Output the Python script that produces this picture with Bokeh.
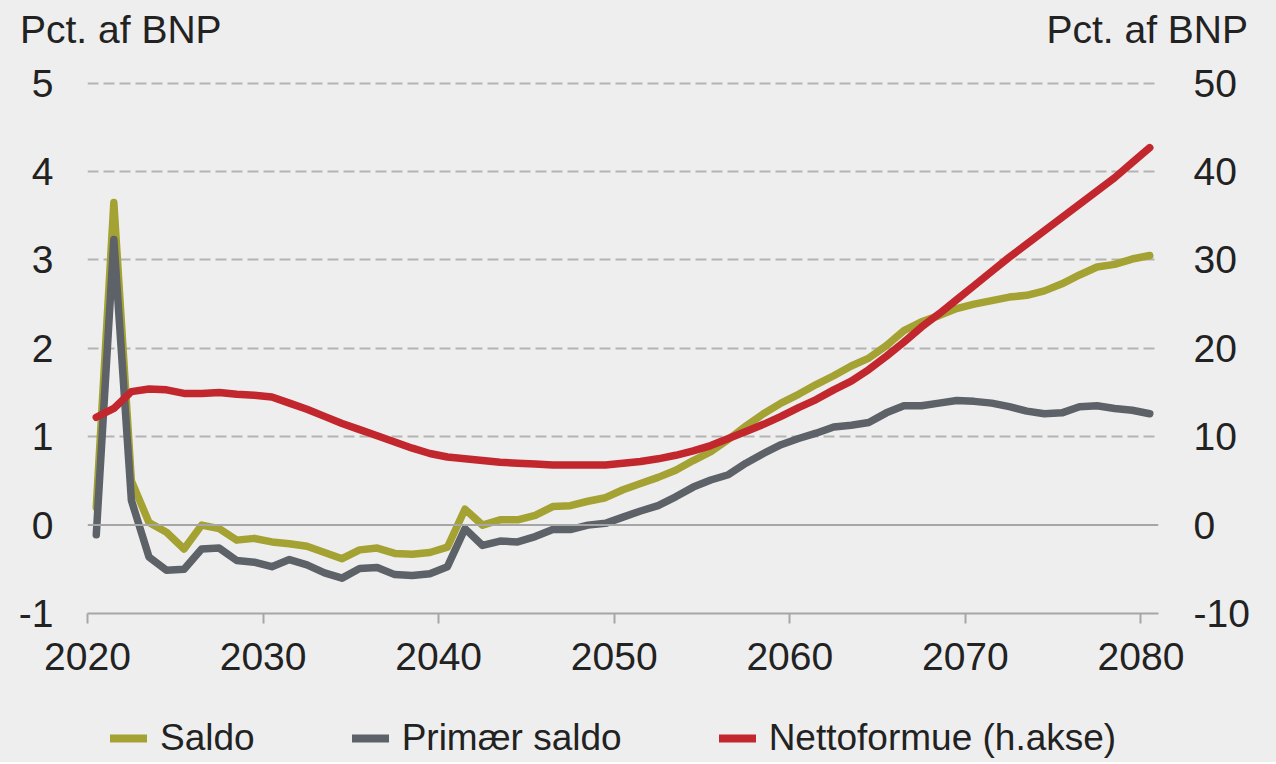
from bokeh.plotting import figure
from bokeh.layouts import column
from bokeh.models import (Range1d, LinearAxis, FixedTicker, Span, Legend, LegendItem,
                          Div, PrintfTickFormatter)
from bokeh.embed import file_html
from bokeh.resources import INLINE

# ---------------- data ----------------
years = list(range(2020, 2081))

saldo = [
    0.20, 3.65, 0.50, 0.03, -0.08, -0.27, 0.00, -0.04, -0.17, -0.15,
    -0.19, -0.21, -0.24, -0.31, -0.38, -0.28, -0.26, -0.32, -0.33, -0.31,
    -0.25, 0.18, 0.00, 0.06, 0.06, 0.11, 0.21, 0.22, 0.27, 0.31,
    0.40, 0.47, 0.54, 0.62, 0.73, 0.83, 0.97, 1.12, 1.26, 1.38,
    1.48, 1.59, 1.69, 1.80, 1.89, 2.03, 2.20, 2.30, 2.37, 2.45,
    2.50, 2.54, 2.58, 2.60, 2.65, 2.73, 2.83, 2.92, 2.95, 3.01,
    3.05,
]

primaer_saldo = [
    -0.11, 3.23, 0.28, -0.36, -0.51, -0.50, -0.27, -0.26, -0.40, -0.42,
    -0.47, -0.39, -0.45, -0.54, -0.60, -0.49, -0.48, -0.56, -0.57, -0.55,
    -0.47, -0.04, -0.23, -0.18, -0.19, -0.13, -0.05, -0.05, 0.00, 0.02,
    0.09, 0.16, 0.22, 0.32, 0.43, 0.51, 0.57, 0.70, 0.81, 0.91,
    0.98, 1.04, 1.11, 1.13, 1.16, 1.27, 1.35, 1.35, 1.38, 1.41,
    1.40, 1.38, 1.34, 1.29, 1.26, 1.27, 1.34, 1.35, 1.32, 1.30,
    1.26,
]

nettoformue = [
    12.2, 13.2, 15.1, 15.4, 15.3, 14.9, 14.9, 15.0, 14.8, 14.7,
    14.5, 13.8, 13.1, 12.3, 11.5, 10.8, 10.1, 9.4, 8.7, 8.1,
    7.7, 7.5, 7.3, 7.1, 7.0, 6.9, 6.8, 6.8, 6.8, 6.8,
    7.0, 7.2, 7.5, 7.9, 8.4, 9.0, 9.8, 10.6, 11.4, 12.3,
    13.3, 14.2, 15.3, 16.3, 17.6, 19.1, 20.7, 22.4, 23.9, 25.5,
    27.1, 28.7, 30.3, 31.8, 33.3, 34.8, 36.3, 37.8, 39.3, 41.0,
    42.7,
]

x_ticks = [2020, 2030, 2040, 2050, 2060, 2070, 2080]
left_ticks = [-1, 0, 1, 2, 3, 4, 5]
right_ticks = [-10, 0, 10, 20, 30, 40, 50]
grid_ticks = [1, 2, 3, 4, 5]

labels = ["Saldo", "Primær saldo", "Nettoformue (h.akse)"]
unit_title = "Pct. af BNP"

# category axis: each year sits in the middle of its slot
xs = [y + 0.5 for y in years]

# ---------------- style ----------------
BG = "#eeeeee"
TXT = "#222222"
AXC = "#a6a6a6"
FONT = "Liberation Sans"
OLIVE = "#a4a232"
GREY = "#5d6168"
RED = "#c1272d"
COLORS = [OLIVE, GREY, RED]
W = 1276
LEFT, RIGHT = 87, 118

# ---------- header with the two unit titles ----------
head_html = (
    f'<div style="position:relative;width:{W}px;height:60px;'
    f'background:{BG};font-family:\'{FONT}\';font-size:39px;'
    f'line-height:39px;color:{TXT};">'
    f'<span style="position:absolute;left:20px;top:10px;white-space:nowrap;">{unit_title}</span>'
    f'<span style="position:absolute;right:28px;top:10px;white-space:nowrap;">{unit_title}</span>'
    '</div>'
)
head = Div(text=head_html, width=W, height=60, margin=0,
           styles={"background-color": BG})

# ---------- main chart ----------
p = figure(
    width=W, height=635,
    output_backend="svg", toolbar_location=None,
    x_range=Range1d(2020, 2081), y_range=Range1d(-1, 5.03),
    min_border_left=LEFT, min_border_right=RIGHT,
    min_border_top=20, min_border_bottom=82,
    background_fill_color=BG, border_fill_color=BG,
    outline_line_color=None,
)
p.extra_y_ranges = {"right": Range1d(-10, 50.3)}

p.xaxis.ticker = FixedTicker(ticks=x_ticks)
p.xaxis.axis_line_color = AXC
p.xaxis.axis_line_width = 2
p.xaxis.major_tick_line_color = AXC
p.xaxis.major_tick_line_width = 2
p.xaxis.major_tick_out = 10
p.xaxis.major_tick_in = 0
p.xaxis.minor_tick_line_color = None
p.xaxis.major_label_standoff = 19
p.xaxis.major_label_text_font_size = "39px"
p.xaxis.major_label_text_font = FONT
p.xaxis.major_label_text_color = TXT

p.yaxis.ticker = FixedTicker(ticks=left_ticks)
right_axis = LinearAxis(y_range_name="right", ticker=FixedTicker(ticks=right_ticks))
p.add_layout(right_axis, "right")

for ax in (p.yaxis[0], right_axis):
    ax.formatter = PrintfTickFormatter(format="%d")
    ax.axis_line_color = None
    ax.major_tick_line_color = None
    ax.minor_tick_line_color = None
    ax.major_tick_out = 0
    ax.major_tick_in = 0
    ax.major_label_text_font_size = "39px"
    ax.major_label_text_font = FONT
    ax.major_label_text_color = TXT
p.yaxis[0].major_label_standoff = 34
right_axis.major_label_standoff = 35

p.xgrid.visible = False
p.ygrid.ticker = FixedTicker(ticks=grid_ticks)
p.ygrid.grid_line_color = "#b3b3b3"
p.ygrid.grid_line_width = 2
p.ygrid.grid_line_dash = "11 5"

p.add_layout(Span(location=0, dimension="width", line_color=AXC, line_width=2))

p.line(xs, saldo, line_color=OLIVE, line_width=7.5,
       line_join="round", line_cap="round")
p.line(xs, primaer_saldo, line_color=GREY, line_width=7.5,
       line_join="round", line_cap="round")
p.line(xs, nettoformue, line_color=RED, line_width=7.5,
       line_join="round", line_cap="round", y_range_name="right")

# ---------- legend strip ----------
lg = figure(
    width=W, height=67,
    output_backend="svg", toolbar_location=None,
    x_range=Range1d(0, 1), y_range=Range1d(0, 1),
    x_axis_type=None, y_axis_type=None,
    min_border_left=LEFT, min_border_right=RIGHT,
    min_border_top=0, min_border_bottom=0,
    background_fill_color=BG, border_fill_color=BG,
    outline_line_color=None,
)
lg.grid.visible = False
items = []
nan = float("nan")
for name, col in zip(labels, COLORS):
    # invisible proxy renderer that only supplies the legend swatch style
    r = lg.line(x=[nan, nan], y=[nan, nan], line_color=col, line_width=8,
                line_cap="round")
    items.append(LegendItem(label=name, renderers=[r]))

legend = Legend(
    items=items,
    orientation="horizontal",
    location=(23, 2),
    glyph_width=37, glyph_height=44, label_height=44,
    label_standoff=13, spacing=97,
    padding=0, margin=0,
    border_line_color=None, background_fill_alpha=0,
    label_text_font=FONT, label_text_font_size="37px",
    label_text_color=TXT,
)
lg.add_layout(legend)

layout = column(head, p, lg, spacing=0, styles={"background-color": BG})
open("out.html", "w").write(file_html(layout, INLINE))
